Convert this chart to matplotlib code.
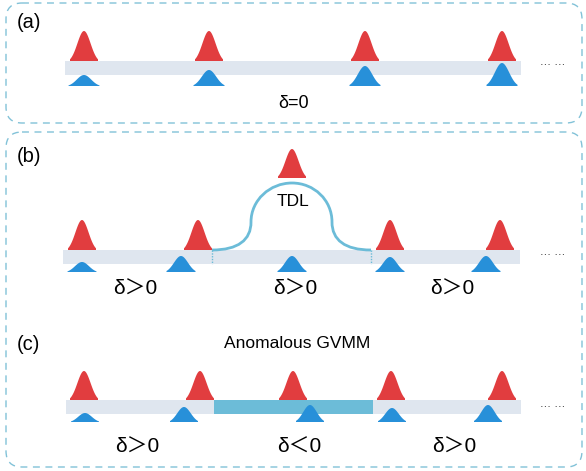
import numpy as np
import matplotlib.pyplot as plt
from matplotlib.patches import FancyBboxPatch, Rectangle, PathPatch
from matplotlib.path import Path

# pulse data (pixel positions)
red_a_x = [84, 209, 365, 502]
blue_a_x = [84, 209, 365, 502]
blue_a_h = [11, 16, 20, 23]

red_b_x = [82, 198, 390, 500]
red_tdl_x = 292
blue_b_x = [82, 181, 292, 390, 486]
blue_b_h = [10, 16, 16, 15, 16]
delta_b = ['δ＞0', 'δ＞0', 'δ＞0']
delta_b_x = [135, 295, 452]

red_c_x = [84, 200, 293, 391, 502]
blue_c_x = [85, 184, 310, 392, 488]
blue_c_h = [9, 15, 17, 14, 17]
delta_c = ['δ＞0', 'δ＜0', 'δ＞0']
delta_c_x = [137, 299, 454]

RED = '#e13d3f'
BLUE = '#2790d9'
BAR = '#dfe6ef'
CYAN = '#6cbcd8'
DASH = '#82c2d8'
FONT = ['Liberation Sans', 'Noto Sans CJK SC', 'DejaVu Sans']

fig = plt.figure(figsize=(5.86, 4.71), dpi=100)
ax = fig.add_axes([0, 0, 1, 1])
ax.set_xlim(0, 586)
ax.set_ylim(471, 0)
ax.axis('off')


def pulse(xc, base, h, color, w=28, sig=6.5):
    t = np.linspace(-w / 2, w / 2, 80)
    g = np.exp(-t ** 2 / (2 * sig ** 2))
    g = (g - 0.5 * g.min()) / (1 - 0.5 * g.min())
    y = base - h * g
    ax.fill(np.r_[xc + t, xc + w / 2, xc - w / 2], np.r_[y, base, base],
            color=color, lw=0, zorder=4)


def bar(x0, x1, y0, color=BAR, z=2):
    ax.add_patch(Rectangle((x0, y0), x1 - x0, 14, color=color, lw=0, zorder=z))


def dots(y):
    ax.text(553, y, '··· ···', fontsize=8, ha='center', va='center', color='#333333')


def box(y0, y1):
    ax.add_patch(FancyBboxPatch((6, y0), 576, y1 - y0,
                                boxstyle='round,pad=0,rounding_size=16',
                                fc='none', ec=DASH, lw=1.0, ls=(0, (5, 4)), zorder=1))


# (a)
box(3, 123)
bar(65, 521, 61)
for x in red_a_x:
    pulse(x, 61, 30, RED, w=28, sig=6.6)
for x, h in zip(blue_a_x, blue_a_h):
    pulse(x, 86, h, BLUE, w=31, sig=7.2)
ax.text(17, 23, '(a)', fontsize=14.5, family=FONT, ha='left', va='center')
ax.text(294, 103, 'δ=0', fontsize=13, family=FONT, ha='center', va='center')
dots(65)

# (b) and (c)
box(132, 467)
bar(63, 520, 250)
for x in red_b_x:
    pulse(x, 250, 30, RED, w=28, sig=6.6)
pulse(red_tdl_x, 178, 29, RED, w=28, sig=6.6)
for x, h in zip(blue_b_x, blue_b_h):
    pulse(x, 272, h, BLUE, w=29, sig=7.0)

verts = [(212, 250), (238, 250), (251, 240), (251, 222),
         (251, 200), (270, 183), (292, 183),
         (314, 183), (332, 200), (332, 222),
         (332, 240), (345, 250), (371, 250)]
codes = [Path.MOVETO] + [Path.CURVE4] * 12
ax.add_patch(PathPatch(Path(verts, codes), fc='none', ec=CYAN, lw=2, zorder=3))
for xv in [212, 371]:
    ax.plot([xv, xv], [250, 264], color=CYAN, lw=1, ls=(0, (1, 1)), zorder=3)
ax.text(293, 201, 'TDL', fontsize=12.5, family=FONT, ha='center', va='center')
ax.text(17, 157, '(b)', fontsize=14.5, family=FONT, ha='left', va='center')
for x, s in zip(delta_b_x, delta_b):
    ax.text(x, 289, s, fontsize=15, family=FONT, ha='center', va='center')
dots(255)

bar(66, 521, 400)
bar(214, 373, 400, color=CYAN, z=3)
for x in red_c_x:
    pulse(x, 400, 29, RED, w=28, sig=6.6)
for x, h in zip(blue_c_x, blue_c_h):
    pulse(x, 422, h, BLUE, w=28, sig=6.8)
ax.text(17, 344, '(c)', fontsize=14.5, family=FONT, ha='left', va='center')
ax.text(297, 343, 'Anomalous GVMM', fontsize=12.5, family=FONT, ha='center', va='center')
for x, s in zip(delta_c_x, delta_c):
    ax.text(x, 447, s, fontsize=15, family=FONT, ha='center', va='center')
dots(407)

fig.savefig('out.png', dpi=100)
